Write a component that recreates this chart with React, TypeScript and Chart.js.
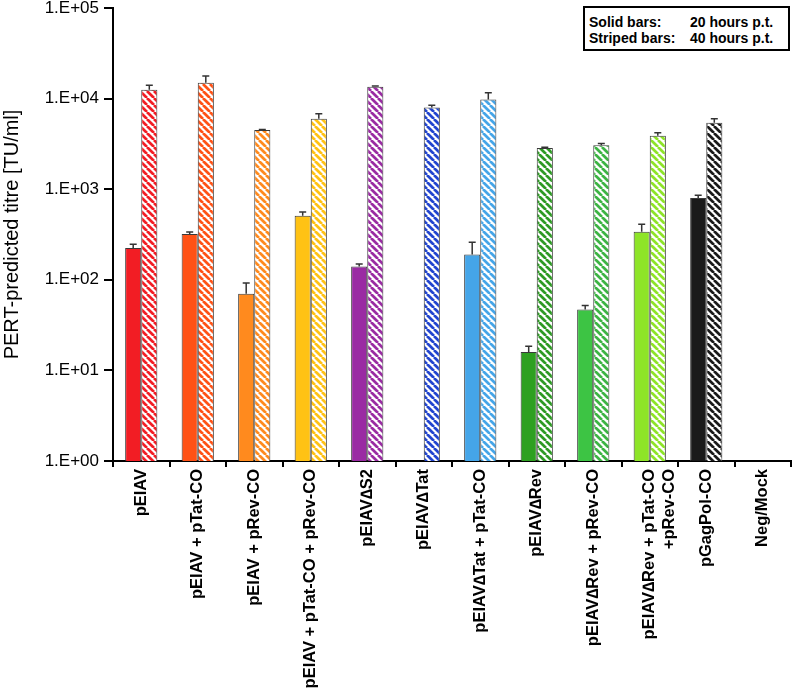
import React, { useEffect, useRef } from "react";
import { Chart, registerables } from "chart.js";

Chart.register(...registerables);

const categories: (string | string[])[] = [
  "pEIAV",
  "pEIAV + pTat-CO",
  "pEIAV + pRev-CO",
  "pEIAV + pTat-CO + pRev-CO",
  "pEIAV\u2206S2",
  "pEIAV\u2206Tat",
  "pEIAV\u2206Tat + pTat-CO",
  "pEIAV\u2206Rev",
  "pEIAV\u2206Rev + pRev-CO",
  ["pEIAV\u2206Rev + pTat-CO", "+pRev-CO"],
  "pGagPol-CO",
  "Neg/Mock",
];

const titre20h: (number | null)[] = [225, 320, 70, 510, 140, null, 190, 16, 47, 340, 800, null];
const err20h: number[] = [22, 18, 22, 50, 9, 0, 70, 2.5, 5, 70, 60, 0];
const titre40h: (number | null)[] = [12500, 15000, 4500, 6000, 13500, 8000, 9800, 2850, 3050, 3900, 5400, null];
const err40h: number[] = [1500, 2800, 60, 800, 300, 450, 1800, 60, 150, 300, 600, 0];

const solidColors = [
  "#F21D24", "#FF5216", "#FF8A1E", "#FFC214", "#9A2BA3", "#1F3FD0",
  "#45A5E8", "#2EA021", "#3DC444", "#8EE428", "#1A1A1A", "#888888",
];
const stripeColors = [
  "#F21D24", "#FF5216", "#FF8A1E", "#FFC214", "#9A2BA3", "#2245CF",
  "#45A5E8", "#2E9A24", "#3DB444", "#8EE428", "#1A1A1A", "#888888",
];

const yTickValues = [1, 10, 100, 1000, 10000, 100000];

const FONT = "'Liberation Sans', Arial, Helvetica, sans-serif";

function makeStripe(color: string): CanvasPattern | string {
  const s = 7;
  const c = document.createElement("canvas");
  c.width = s;
  c.height = s;
  const ctx = c.getContext("2d");
  if (!ctx) return color;
  ctx.fillStyle = "#ffffff";
  ctx.fillRect(0, 0, s, s);
  ctx.strokeStyle = color;
  ctx.lineWidth = 2.7;
  ctx.beginPath();
  for (const k of [-1, 0, 1]) {
    ctx.moveTo(k * s, 0);
    ctx.lineTo(k * s + s, s);
  }
  ctx.stroke();
  return ctx.createPattern(c, "repeat") || color;
}

const errorBarPlugin = {
  id: "errorBars",
  afterDatasetsDraw(chart: any) {
    const ctx = chart.ctx;
    const yScale = chart.scales.y;
    const errs = [err20h, err40h];
    chart.data.datasets.forEach((ds: any, di: number) => {
      const meta = chart.getDatasetMeta(di);
      meta.data.forEach((bar: any, i: number) => {
        const v = ds.data[i];
        const e = errs[di][i];
        if (v == null || !e) return;
        const x = bar.x;
        const y0 = yScale.getPixelForValue(v);
        const y1 = yScale.getPixelForValue(v + e);
        ctx.save();
        ctx.strokeStyle = "#333333";
        ctx.lineWidth = 1.5;
        ctx.beginPath();
        ctx.moveTo(x, y0);
        ctx.lineTo(x, y1);
        ctx.moveTo(x - 3.5, y1);
        ctx.lineTo(x + 3.5, y1);
        ctx.stroke();
        ctx.restore();
      });
    });
  },
};

export default function App() {
  const canvasRef = useRef<HTMLCanvasElement | null>(null);

  useEffect(() => {
    if (!canvasRef.current) return;
    const chart = new Chart(canvasRef.current, {
      type: "bar",
      data: {
        labels: categories,
        datasets: [
          {
            label: "20 hours p.t.",
            data: titre20h,
            backgroundColor: solidColors,
            borderColor: "#3a3a3a",
            borderWidth: 1,
            barPercentage: 1,
            categoryPercentage: 0.57,
          },
          {
            label: "40 hours p.t.",
            data: titre40h,
            backgroundColor: stripeColors.map((c) => makeStripe(c)) as any,
            borderColor: "#3a3a3a",
            borderWidth: 1,
            barPercentage: 1,
            categoryPercentage: 0.57,
          },
        ],
      },
      options: {
        responsive: false,
        animation: false,
        layout: { padding: { top: 8, right: 1, left: 0, bottom: 0 } },
        plugins: {
          legend: { display: false },
          tooltip: { enabled: false },
        },
        scales: {
          x: {
            type: "category",
            offset: true,
            grid: {
              offset: true,
              drawOnChartArea: false,
              drawTicks: true,
              tickLength: 6,
              color: "#000",
              lineWidth: 2,
            },
            border: { color: "#000", width: 2 },
            ticks: {
              color: "#000",
              autoSkip: false,
              maxRotation: 90,
              minRotation: 90,
              padding: 2,
              font: { family: FONT, size: 16.5, weight: "bold" },
            },
            afterFit: (s: any) => {
              s.height = 229;
              s.paddingLeft = 0;
              s.paddingRight = 0;
            },
          },
          y: {
            type: "logarithmic",
            min: 1,
            max: 100000,
            grid: {
              drawOnChartArea: false,
              drawTicks: true,
              tickLength: 9,
              color: "#000",
              lineWidth: 2,
            },
            border: { color: "#000", width: 2 },
            ticks: {
              color: "#000",
              padding: 5,
              font: { family: FONT, size: 17 },
              callback: (v: any) => {
                const e = Math.round(Math.log10(Number(v)));
                return "1.E+" + String(e).padStart(2, "0");
              },
            },
            afterBuildTicks: (s: any) => {
              s.ticks = yTickValues.map((v) => ({ value: v }));
            },
            title: {
              display: true,
              text: "PERT-predicted titre [TU/ml]",
              color: "#000",
              padding: 0,
              font: { family: FONT, size: 20 },
            },
            afterFit: (s: any) => {
              s.width = 113;
              s.paddingTop = 0;
              s.paddingBottom = 0;
            },
          },
        },
      },
      plugins: [errorBarPlugin],
    });
    return () => chart.destroy();
  }, []);

  const rowStyle: React.CSSProperties = {
    position: "absolute",
    lineHeight: "16px",
    fontFamily: FONT,
    fontWeight: "bold",
    fontSize: "14px",
    whiteSpace: "nowrap",
    color: "#000",
  };

  return (
    <div
      style={{
        position: "fixed",
        left: 0,
        top: 0,
        width: 792,
        height: 690,
        background: "#fff",
      }}
    >
      <canvas ref={canvasRef} width={792} height={690} style={{ width: 792, height: 690, display: "block" }} />
      <div
        style={{
          position: "absolute",
          left: 583,
          top: 6,
          width: 207,
          height: 45,
          border: "2px solid #000",
          boxSizing: "border-box",
          background: "#fff",
        }}
      >
        <span style={{ ...rowStyle, left: 4, top: 6 }}>Solid bars:</span>
        <span style={{ ...rowStyle, left: 105, top: 6 }}>20 hours p.t.</span>
        <span style={{ ...rowStyle, left: 4, top: 22 }}>Striped bars:</span>
        <span style={{ ...rowStyle, left: 105, top: 22 }}>40 hours p.t.</span>
      </div>
    </div>
  );
}
